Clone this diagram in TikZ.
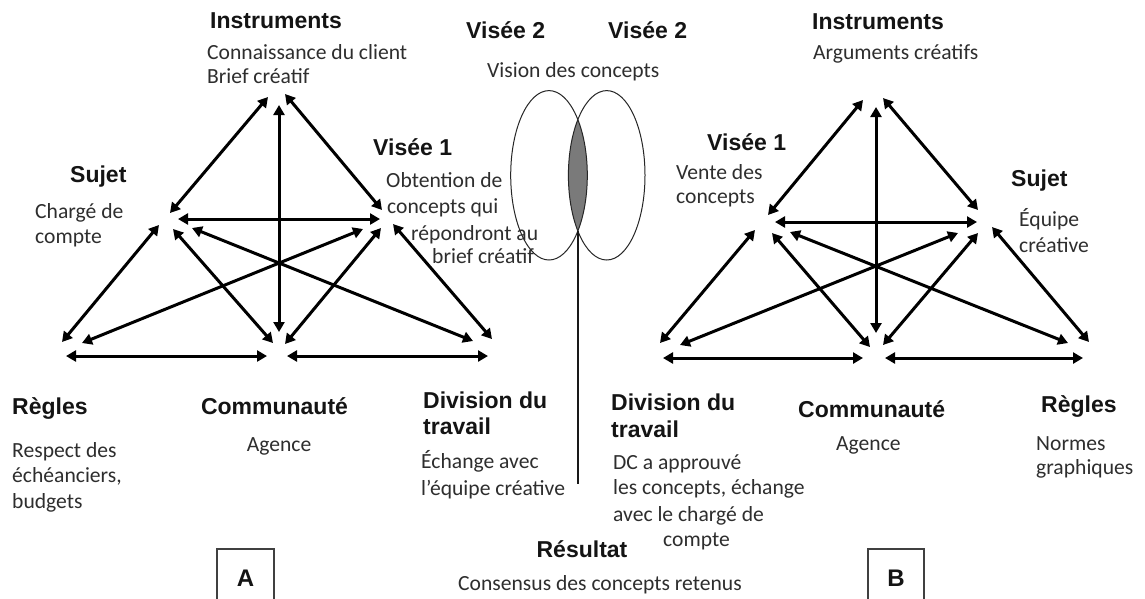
\documentclass[tikz,border=0pt]{standalone}
\usepackage{fontspec}
\setmainfont{Carlito}
\newfontfamily\labfont{Liberation Sans}
\usetikzlibrary{arrows.meta,shapes.geometric}
\tikzset{
  dbl/.style={line width=3pt,{Triangle[length=10pt,width=11pt]}-{Triangle[length=10pt,width=11pt]}},
  lab/.style={anchor=base west,inner sep=0pt,font=\labfont\bfseries\fontsize{23}{27}\selectfont,text=black!92},
  labc/.style={lab,anchor=base},
  body/.style={anchor=base west,inner sep=0pt,font=\fontsize{21.6}{25}\selectfont,text=black!82},
  bodyc/.style={body,anchor=base},
  ell/.style={draw=black!85,line width=1pt,ellipse,inner sep=0pt,minimum width=76.6pt,minimum height=169.4pt},
  frame/.style={draw=black!75,line width=1.2pt},
  boxlab/.style={anchor=base,inner sep=0pt,font=\labfont\bfseries\fontsize{24}{28}\selectfont,text=black!92}
}
\begin{document}
\begin{tikzpicture}[x=1pt,y=-1pt]
\useasboundingbox (0,0) rectangle (1145,598);
\fill[white] (0,0) rectangle (1145,598);

% ---------------- Triangle A ----------------
\coordinate (A1a) at (170,213); \coordinate (A1b) at (268,97);
\coordinate (A2a) at (279,105); \coordinate (A2b) at (279,332);
\coordinate (A3a) at (285,94);  \coordinate (A3b) at (382,210);
\coordinate (A4a) at (178,219); \coordinate (A4b) at (380,219);
\coordinate (A5a) at (159,225); \coordinate (A5b) at (62,342);
\coordinate (A6a) at (173,229); \coordinate (A6b) at (273,343);
\coordinate (A7a) at (192,228); \coordinate (A7b) at (473,341);
\coordinate (A8a) at (363,229); \coordinate (A8b) at (82,343);
\coordinate (A9a) at (381,228); \coordinate (A9b) at (285,344);
\coordinate (A10a) at (393,224); \coordinate (A10b) at (492,339);
\coordinate (A11a) at (66,356); \coordinate (A11b) at (267,356);
\coordinate (A12a) at (287,356); \coordinate (A12b) at (488,356);
\foreach \e in {1,...,12}{\draw[dbl] (A\e a) -- (A\e b);}

% ---------------- Triangle B ----------------
\coordinate (B1a) at (768,215); \coordinate (B1b) at (863,100);
\coordinate (B2a) at (876,107); \coordinate (B2b) at (876,333);
\coordinate (B3a) at (883,98);  \coordinate (B3b) at (978,210);
\coordinate (B4a) at (775,222); \coordinate (B4b) at (977,222);
\coordinate (B5a) at (755,230); \coordinate (B5b) at (660,343);
\coordinate (B6a) at (772,233); \coordinate (B6b) at (870,347);
\coordinate (B7a) at (790,232); \coordinate (B7b) at (1068,343);
\coordinate (B8a) at (958,233); \coordinate (B8b) at (680,345);
\coordinate (B9a) at (978,233); \coordinate (B9b) at (883,345);
\coordinate (B10a) at (992,227); \coordinate (B10b) at (1089,342);
\coordinate (B11a) at (663,358); \coordinate (B11b) at (863,358);
\coordinate (B12a) at (885,358); \coordinate (B12b) at (1083,358);
\foreach \e in {1,...,12}{\draw[dbl] (B\e a) -- (B\e b);}

% ---------------- Ellipses ----------------
\begin{scope}
  \clip (549,175.3) ellipse [x radius=38.3, y radius=84.7];
  \fill[black!52] (606.7,175.3) ellipse [x radius=38.3, y radius=84.7];
\end{scope}
\node[ell] (E1) at (549,175.3) {};
\node[ell] (E2) at (606.7,175.3) {};
\coordinate (lens) at (577.85,231);
\coordinate (lineend) at (577.85,484);
\draw[line width=1.7pt,black!90] (lens) -- (lineend);

% ---------------- Labels A ----------------
\node[lab] (tAinst) at (210,28.5) {Instruments};
\node[body] (tAinst1) at (207,59) {Connaissance du client};
\node[body] (tAinst2) at (207,83) {Brief créatif};
\node[lab] (tAsuj) at (70,182) {Sujet};
\node[body] (tAsuj1) at (35,218) {Chargé de};
\node[body] (tAsuj2) at (35,243) {compte};
\node[lab] (tAvis) at (373,155) {Visée 1};
\node[body] (tAvis1) at (386,187) {Obtention de};
\node[body] (tAvis2) at (387,213) {concepts qui};
\node[body] (tAvis3) at (411,240) {répondront au};
\node[body] (tAvis4) at (432,263) {brief créatif};
\node[lab] (tAreg) at (12,414) {Règles};
\node[body] (tAreg1) at (12,457) {Respect des};
\node[body] (tAreg2) at (12,482) {échéanciers,};
\node[body] (tAreg3) at (12,508) {budgets};
\node[labc] (tAcom) at (274.5,414) {Communauté};
\node[bodyc] (tAcom1) at (279,451) {Agence};
\node[lab] (tAdiv) at (423,408) {Division du};
\node[lab] (tAdiv2) at (423,434) {travail};
\node[body] (tAdiv3) at (421,468) {Échange avec};
\node[body] (tAdiv4) at (421,495) {l’équipe créative};
\draw[frame] (217,600) -- (217,549) -- (274,549) -- (274,600);
\node[boxlab] (tA) at (245.5,586) {A};

% ---------------- Centre ----------------
\node[lab] (tV2a) at (466,38) {Visée 2};
\node[lab] (tV2b) at (608,38) {Visée 2};
\node[body] (tV2c) at (487,77) {Vision des concepts};
\node[labc] (tRes) at (582,557) {Résultat};
\node[body] (tRes1) at (458,590) {Consensus des concepts retenus};

% ---------------- Labels B ----------------
\node[lab] (tBinst) at (812,29.3) {Instruments};
\node[body] (tBinst1) at (813,59) {Arguments créatifs};
\node[lab] (tBvis) at (707,150) {Visée 1};
\node[body] (tBvis1) at (676,179) {Vente des};
\node[body] (tBvis2) at (676,203) {concepts};
\node[lab] (tBsuj) at (1011,186) {Sujet};
\node[body] (tBsuj1) at (1019,226) {Équipe};
\node[body] (tBsuj2) at (1019,252) {créative};
\node[lab] (tBdiv) at (611,410) {Division du};
\node[lab] (tBdiv2) at (611,437) {travail};
\node[body] (tBdiv3) at (613,469) {DC a approuvé};
\node[body] (tBdiv4) at (613,494) {les concepts, échange};
\node[body] (tBdiv5) at (613,521) {avec le chargé de};
\node[body] (tBdiv6) at (663,546) {compte};
\node[lab] (tBcom) at (798,417) {Communauté};
\node[body] (tBcom1) at (836,450) {Agence};
\node[lab] (tBreg) at (1041,412) {Règles};
\node[body] (tBreg1) at (1036,450) {Normes};
\node[body] (tBreg2) at (1036,474) {graphiques};
\draw[frame] (868,600) -- (868,549) -- (924,549) -- (924,600);
\node[boxlab] (tB) at (896,586) {B};
\end{tikzpicture}
\end{document}
